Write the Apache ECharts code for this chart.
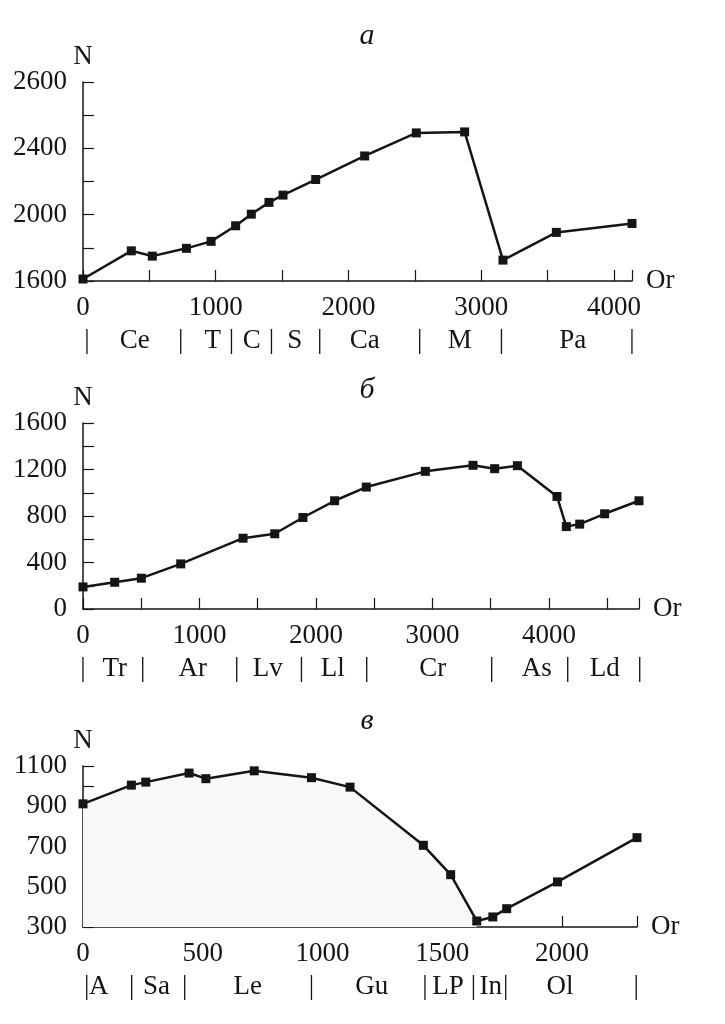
<!DOCTYPE html>
<html>
<head>
<meta charset="utf-8">
<script src="https://cdn.jsdelivr.net/npm/echarts@6.0.0/dist/echarts.min.js"></script>
<style>
html, body { margin: 0; padding: 0; background: #fff; }
#chart { width: 725px; height: 1024px; }
</style>
</head>
<body>
<div id="chart"></div>
<script>
// панель а
var orA = [0, 364, 522, 779, 965, 1150, 1268, 1401, 1507, 1753, 2122, 2511, 2875, 3164, 3566, 4136];
var nA = [1612, 1782, 1750, 1797, 1839, 1933, 2003, 2074, 2118, 2212, 2354, 2493, 2499, 1726, 1893, 1947];
var xLabelsA = [0, 1000, 2000, 3000, 4000];
var yTicksA = [1600, 2000, 2400, 2800];
var yLabelsA = ['1600', '2000', '2400', '2600'];
var periodsA = ['Ce', 'T', 'C', 'S', 'Ca', 'M', 'Pa'];
var periodPosA = [390, 977, 1271, 1595, 2122, 2838, 3689];
var sepsA = [30, 736, 1118, 1419, 1783, 2536, 3152, 4136];

// панель б
var orB = [0, 272, 501, 839, 1374, 1646, 1888, 2160, 2432, 2939, 3348, 3534, 3729, 4069, 4149, 4264, 4478, 4773];
var nB = [190, 230, 265, 388, 609, 647, 787, 931, 1049, 1184, 1236, 1207, 1233, 968, 709, 730, 819, 931];
var xLabelsB = [0, 1000, 2000, 3000, 4000];
var yTicksB = [0, 400, 800, 1200, 1600];
var yLabelsB = ['0', '400', '800', '1200', '1600'];
var periodsB = ['Tr', 'Ar', 'Lv', 'Ll', 'Cr', 'As', 'Ld'];
var periodPosB = [273, 942, 1585, 2143, 3002, 3895, 4478];
var sepsB = [0, 512, 1320, 1875, 2435, 3508, 4160, 4780];

// панель в
var orC = [0, 202, 262, 443, 513, 715, 954, 1115, 1421, 1535, 1644, 1711, 1769, 1981, 2313];
var nC = [912, 1005, 1020, 1065, 1037, 1076, 1042, 995, 706, 560, 330, 350, 391, 524, 744];
var xLabelsC = [0, 500, 1000, 1500, 2000];
var yTicksC = [300, 500, 700, 900, 1100];
var yLabelsC = ['300', '500', '700', '900', '1100'];
var periodsC = ['A', 'Sa', 'Le', 'Gu', 'LP', 'In', 'Ol'];
var periodPosC = [66, 307, 688, 1206, 1524, 1702, 1992];
var sepsC = [15, 203, 425, 954, 1428, 1630, 1765, 2310];

var FONT = '"Liberation Serif", "DejaVu Serif", serif';
var INK = '#151515';
var FS = 27;

function pairs(xs, ys) {
    return xs.map(function (x, i) { return [x, ys[i]]; });
}

function xAxisFor(idx, labels) {
    return {
        type: 'value', gridIndex: idx, min: 0, max: 'dataMax', interval: 500,
        name: 'Or', nameLocation: 'end', nameGap: 14,
        nameTextStyle: { fontFamily: FONT, fontSize: FS, color: INK, padding: [0, 0, 18, 0] },
        axisLine: { show: true, lineStyle: { color: INK, width: 1.5 } },
        axisTick: { show: true, inside: true, length: 11, lineStyle: { color: INK, width: 1.2 } },
        splitLine: { show: false },
        axisLabel: {
            margin: 13, fontFamily: FONT, fontSize: FS, color: INK,
            showMaxLabel: true,
            formatter: function (v) { return labels.indexOf(v) >= 0 ? String(v) : ''; }
        }
    };
}

function yAxisFor(idx, min, max, step, ticks, labels) {
    return {
        type: 'value', gridIndex: idx, min: min, max: max, interval: step,
        name: 'N', nameLocation: 'end', nameGap: 12,
        nameTextStyle: { fontFamily: FONT, fontSize: FS, color: INK },
        axisLine: { show: true, lineStyle: { color: INK, width: 1.5 } },
        axisTick: { show: true, inside: true, length: 11, lineStyle: { color: INK, width: 1.2 } },
        splitLine: { show: false },
        axisLabel: {
            margin: 16, fontFamily: FONT, fontSize: FS, color: INK,
            formatter: function (v) {
                var k = ticks.indexOf(v);
                return k >= 0 ? labels[k] : '';
            }
        }
    };
}

function lineSeries(idx, data) {
    return {
        type: 'line', xAxisIndex: idx, yAxisIndex: idx, data: data,
        symbol: 'rect', symbolSize: 9, showAllSymbol: true,
        lineStyle: { color: INK, width: 2.5 },
        itemStyle: { color: INK },
        z: 3, animation: false
    };
}

var dataC = pairs(orC, nC);
// заливка только до минимума
var minC = Math.min.apply(null, nC);
var xMinC = orC[nC.indexOf(minC)];
var areaC = dataC.filter(function (p) { return p[0] <= xMinC; });

var chart = echarts.init(document.getElementById('chart'));

chart.setOption({
    backgroundColor: '#fff',
    animation: false,
    grid: [
        { left: 83, top: 82, right: 93, bottom: 743, outerBoundsMode: 'none' },
        { left: 83, top: 423, right: 86, bottom: 415, outerBoundsMode: 'none' },
        { left: 83, top: 766, right: 88, bottom: 97, outerBoundsMode: 'none' }
    ],
    xAxis: [
        xAxisFor(0, xLabelsA),
        xAxisFor(1, xLabelsB),
        xAxisFor(2, xLabelsC)
    ],
    yAxis: [
        yAxisFor(0, 1600, 2800, 200, yTicksA, yLabelsA),
        yAxisFor(1, 0, 1600, 200, yTicksB, yLabelsB),
        yAxisFor(2, 300, 1100, 100, yTicksC, yLabelsC)
    ],
    series: [
        lineSeries(0, pairs(orA, nA)),
        lineSeries(1, pairs(orB, nB)),
        {
            type: 'line', xAxisIndex: 2, yAxisIndex: 2, data: areaC,
            symbol: 'none', lineStyle: { width: 0 },
            areaStyle: { color: '#f8f8f8', opacity: 1 },
            z: 1, silent: true
        },
        lineSeries(2, dataC)
    ]
});

// подписи периодов под осью
function periodRow(idx, yMin, seps, names, pos) {
    var els = [];
    var base = chart.convertToPixel({ gridIndex: idx }, [0, yMin])[1] + 60;
    var st = function (t) {
        return { text: t, font: FS + 'px ' + FONT, fill: INK, align: 'center', verticalAlign: 'middle' };
    };
    seps.forEach(function (x) {
        var p = chart.convertToPixel({ gridIndex: idx }, [x, yMin]);
        els.push({ type: 'text', x: p[0], y: base, style: st('|') });
    });
    names.forEach(function (name, i) {
        var p = chart.convertToPixel({ gridIndex: idx }, [pos[i], yMin]);
        els.push({ type: 'text', x: p[0], y: base, style: st(name) });
    });
    return els;
}

function panelTitle(t, y) {
    return {
        type: 'text', x: 367, y: y,
        style: { text: t, font: 'italic 30px ' + FONT, fill: INK, align: 'center', verticalAlign: 'middle' }
    };
}

var graphics = []
    .concat(periodRow(0, 1600, sepsA, periodsA, periodPosA))
    .concat(periodRow(1, 0, sepsB, periodsB, periodPosB))
    .concat(periodRow(2, 300, sepsC, periodsC, periodPosC))
    .concat([panelTitle('а', 36), panelTitle('б', 390), panelTitle('в', 721)]);

chart.setOption({ graphic: graphics });
</script>
</body>
</html>
